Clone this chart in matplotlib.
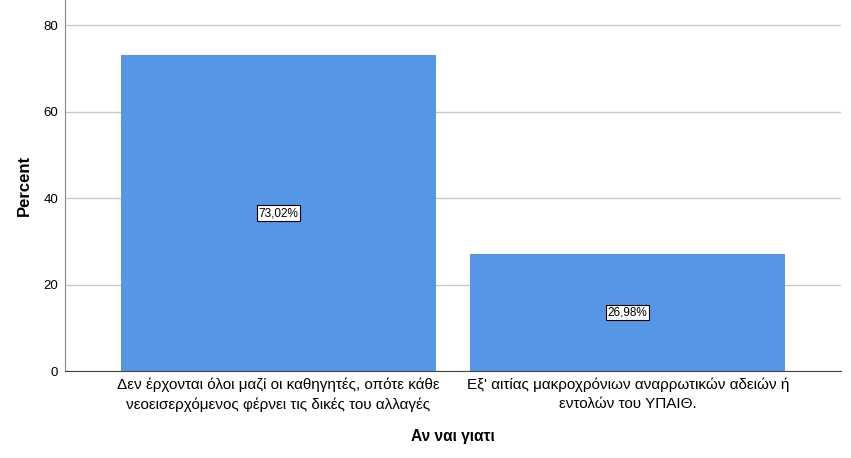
import matplotlib.pyplot as plt

plt.rcParams['font.family'] = ['Liberation Sans', 'DejaVu Sans']

categories = ['Δεν έρχονται όλοι μαζί οι καθηγητές, οπότε κάθε\nνεοεισερχόμενος φέρνει τις δικές του αλλαγές',
              'Εξ\' αιτίας μακροχρόνιων αναρρωτικών αδειών ή\nεντολών του ΥΠΑΙΘ.']
percent = [73.02, 26.98]
value_labels = ['73,02%', '26,98%']

fig = plt.figure(figsize=(8.51, 4.58), dpi=100)
ax = fig.add_axes([65 / 851, 1 - 371 / 458, 776 / 851, 371 / 458])

x = range(len(categories))
bars = ax.bar(x, percent, width=0.9, color='#5596e6', zorder=2)

for bar, lab in zip(bars, value_labels):
    ax.text(bar.get_x() + bar.get_width() / 2, bar.get_height() / 2, lab,
            ha='center', va='center', fontsize=8.5, zorder=3,
            bbox=dict(boxstyle='square,pad=0.15', fc='white', ec='black', lw=0.8))

ax.set_xlim(-0.61, 1.61)
ax.set_ylim(0, 85.8)
ax.set_yticks([0, 20, 40, 60, 80])
ax.set_xticks(list(x))
ax.set_xticklabels(categories, fontsize=11, linespacing=1.45)
ax.tick_params(axis='x', length=0, pad=5)
ax.tick_params(axis='y', length=0, pad=5, labelsize=9.5)
ax.yaxis.grid(True, color='#c8c8c8', lw=1, zorder=0)

ax.spines['top'].set_visible(False)
ax.spines['right'].set_visible(False)
ax.spines['left'].set_color('#888888')
ax.spines['bottom'].set_color('#444444')

ax.set_ylabel('Percent', fontsize=12, fontweight='bold', labelpad=8)
ax.set_xlabel('Αν ναι γιατι', fontsize=11.2, fontweight='bold', labelpad=12)

plt.savefig('out.png', dpi=100)
